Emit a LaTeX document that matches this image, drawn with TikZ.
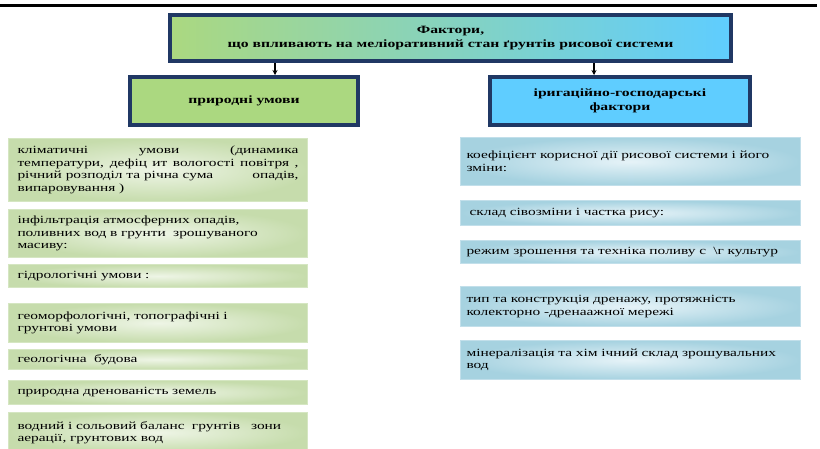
\documentclass[tikz,border=0pt]{standalone}
\usepackage{fontspec}
\setmainfont{Liberation Serif}[FakeStretch=1.4]
\usetikzlibrary{arrows.meta}

\definecolor{navyedge}{HTML}{203864}
\definecolor{headgreen}{HTML}{ABD880}
\definecolor{headblue}{HTML}{5FCDFF}
\definecolor{palegreen}{HTML}{EEF5E6}
\definecolor{darkgreen}{HTML}{C6DCAC}
\definecolor{edgegreen}{HTML}{D5E6C2}
\definecolor{paleblue}{HTML}{E6F3F8}
\definecolor{darkblue}{HTML}{A6D2E0}
\definecolor{edgeblue}{HTML}{C2DFEA}

\tikzset{
  headbox/.style={draw=navyedge, line width=4pt, font=\bfseries\fontsize{11.2}{14}\selectfont,
    align=center, inner sep=0pt},
  natbox/.style={anchor=north west, draw=edgegreen, line width=1pt, inner color=palegreen,
    outer color=darkgreen, text width=281pt, inner xsep=9pt, inner ysep=0pt,
    font=\fontsize{11}{12.5}\selectfont, align=left},
  irrbox/.style={anchor=north west, draw=edgeblue, line width=1pt, inner color=paleblue,
    outer color=darkblue, text width=328pt, inner xsep=6pt, inner ysep=0pt,
    font=\fontsize{11}{12.5}\selectfont, align=left},
  arr/.style={-{Stealth[length=5pt,width=5pt]}, line width=1.5pt}
}

\begin{document}
\begin{tikzpicture}[x=1pt,y=-1pt]
  \useasboundingbox (0,0) rectangle (820,448);
  \draw[line width=3pt] (0,5) -- (817,5);

  % headings
  \node[headbox, minimum width=561pt, minimum height=46pt, left color=headgreen, right color=headblue]
    (title) at (450.5,38) {Фактори,\\ що впливають на меліоративний стан  ґрунтів рисової системи};
  \node[headbox, minimum width=228pt, minimum height=48pt, fill=headgreen]
    (nat) at (244,101) {природні умови};
  \node[headbox, minimum width=260pt, minimum height=48pt, fill=headblue]
    (irr) at (620,101) {іригаційно-господарські\\ фактори};

  \coordinate (a1) at (275,0);
  \coordinate (a2) at (594,0);
  \draw[arr] (title.south -| a1) -- (nat.north -| a1);
  \draw[arr] (title.south -| a2) -- (irr.north -| a2);

  % natural conditions
  \node[natbox, minimum height=63pt, align=justify] (n1) at (8,138)
    {кліматичні умови (динамика\linebreak температури, дефіц ит вологості повітря ,\linebreak річний розподіл та річна сума\hfill опадів,\linebreak випаровування )};
  \node[natbox, minimum height=48pt] (n2) at (8,209)
    {інфільтрація атмосферних опадів,\\ поливних вод в грунти \ зрошуваного\\ масиву:};
  \node[natbox, minimum height=23pt] (n3) at (8,264) {гідрологічні умови :};
  \node[natbox, minimum height=39pt] (n4) at (8,303)
    {геоморфологічні, топографічні і\\ грунтові умови};
  \node[natbox, minimum height=20pt] (n5) at (8,349) {геологічна \ будова};
  \node[natbox, minimum height=24pt] (n6) at (8,380) {природна дренованість земель};
  \node[natbox, minimum height=40pt] (n7) at (8,412)
    {водний і сольовий баланс \ грунтів \ \ зони\\ аерації, грунтових вод};

  % irrigation factors
  \node[irrbox, minimum height=48pt] (i1) at (460,137)
    {коефіцієнт корисної дії рисової системи і його\\ зміни:};
  \node[irrbox, minimum height=25pt] (i2) at (460,200) {\hspace*{3pt}склад сівозміни і частка рису:};
  \node[irrbox, minimum height=23pt] (i3) at (460,240)
    {режим зрошення та техніка поливу с \ \textbackslash г культур};
  \node[irrbox, minimum height=40pt] (i4) at (460,286)
    {тип та конструкція дренажу, протяжність\\ колекторно -дренаажної мережі};
  \node[irrbox, minimum height=39pt] (i5) at (460,340)
    {мінералізація та хім ічний склад зрошувальних\\ вод};
\end{tikzpicture}
\end{document}
